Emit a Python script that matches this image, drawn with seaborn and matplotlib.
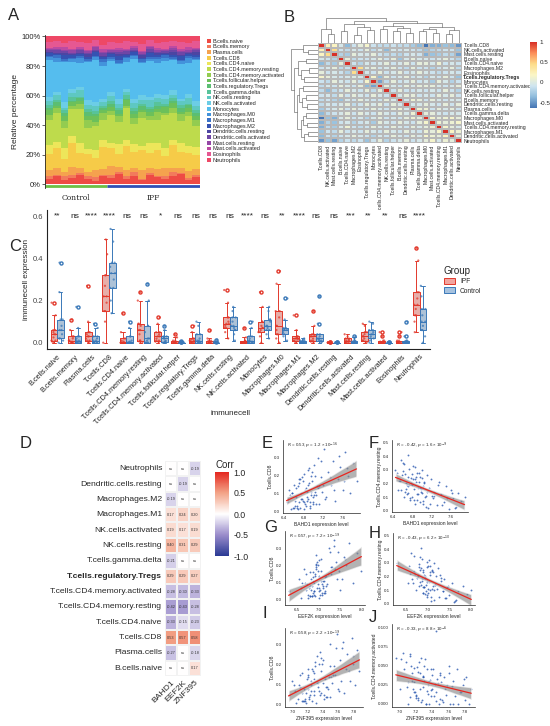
import numpy as np
import pandas as pd
import matplotlib
matplotlib.use("Agg")
import matplotlib.pyplot as plt
import seaborn as sns
from matplotlib import font_manager as fm
from matplotlib.colors import LinearSegmentedColormap
from matplotlib.patches import Patch
from matplotlib.collections import PolyCollection

sns.set_style("white")
plt.rcParams['font.family'] = ['Liberation Sans', 'DejaVu Sans']
_names = {f.name for f in fm.fontManager.ttflist}
NARROW = 'Liberation Sans Narrow' if 'Liberation Sans Narrow' in _names else None

# ---------------- shared categories ----------------
cell_types = ["B.cells.naive", "B.cells.memory", "Plasma.cells", "T.cells.CD8", "T.cells.CD4.naive",
              "T.cells.CD4.memory.resting", "T.cells.CD4.memory.activated", "T.cells.follicular.helper",
              "T.cells.regulatory.Tregs", "T.cells.gamma.delta", "NK.cells.resting", "NK.cells.activated",
              "Monocytes", "Macrophages.M0", "Macrophages.M1", "Macrophages.M2", "Dendritic.cells.resting",
              "Dendritic.cells.activated", "Mast.cells.resting", "Mast.cells.activated", "Eosinophils",
              "Neutrophils"]
cell_colors = ["#EE4A44", "#F27A5C", "#F5A24E", "#F6CB48", "#EDE65A", "#BEDB4C", "#93CC50", "#6CC05A",
               "#5BBE72", "#58C39A", "#5EC8C2", "#6CCDE6", "#55BDEE", "#4393DB", "#3A72C8", "#3552B2",
               "#4C45A2", "#6E46A6", "#9446A6", "#BC4AA2", "#E65892", "#EE4866"]

# ---------------- panel A data (percent per sample) ----------------
a_group = ["Control"] * 8 + ["IPF"] * 12
a_b_naive = [4, 6, 3, 5, 7, 4, 3, 6, 5, 8, 4, 6, 3, 7, 5, 4, 6, 8, 3, 5]
a_b_memory = [2, 1, 3, 2, 1, 2, 3, 1, 2, 1, 2, 3, 1, 2, 1, 2, 3, 1, 2, 2]
a_plasma = [4, 5, 3, 6, 4, 3, 5, 4, 6, 4, 5, 3, 7, 4, 5, 6, 3, 4, 5, 4]
a_cd8 = [12, 15, 10, 18, 11, 14, 9, 16, 13, 10, 17, 12, 15, 11, 14, 9, 16, 12, 13, 10]
a_cd4_naive = [6, 4, 8, 5, 7, 3, 6, 5, 4, 7, 5, 6, 3, 8, 5, 6, 4, 7, 5, 6]
a_cd4_mem_rest = [18, 22, 15, 20, 25, 16, 19, 14, 20, 17, 23, 15, 21, 18, 16, 24, 19, 17, 22, 15]
a_cd4_mem_act = [4, 3, 5, 2, 4, 6, 3, 5, 3, 4, 2, 5, 4, 3, 6, 2, 4, 5, 3, 4]
a_tfh = [3, 2, 4, 3, 2, 3, 4, 2, 3, 2, 4, 3, 2, 3, 2, 4, 3, 2, 3, 3]
a_tregs = [2, 3, 2, 1, 2, 3, 2, 2, 2, 3, 1, 2, 3, 2, 2, 1, 2, 3, 2, 2]
a_gamma_delta = [2, 1, 2, 3, 1, 2, 2, 1, 2, 1, 3, 2, 1, 2, 3, 1, 2, 2, 1, 2]
a_nk_rest = [3, 4, 2, 3, 5, 3, 4, 3, 4, 3, 2, 4, 3, 5, 3, 4, 2, 3, 4, 3]
a_nk_act = [3, 2, 4, 3, 2, 4, 3, 2, 3, 4, 2, 3, 4, 2, 3, 3, 4, 2, 3, 4]
a_monocytes = [26, 22, 30, 20, 18, 28, 32, 24, 22, 26, 20, 30, 24, 28, 22, 25, 21, 27, 23, 29]
a_m0 = [2, 3, 1, 2, 3, 1, 2, 3, 2, 1, 3, 2, 1, 2, 3, 2, 1, 2, 3, 1]
a_m1 = [1, 2, 1, 1, 2, 1, 1, 2, 1, 2, 1, 1, 2, 1, 1, 2, 1, 1, 2, 1]
a_m2 = [2, 1, 3, 2, 1, 2, 3, 1, 2, 3, 1, 2, 1, 3, 2, 1, 2, 3, 1, 2]
a_dc_rest = [1, 1, 2, 1, 1, 2, 1, 1, 1, 2, 1, 1, 2, 1, 1, 1, 2, 1, 1, 2]
a_dc_act = [1, 2, 1, 1, 2, 1, 1, 2, 1, 1, 2, 1, 1, 2, 1, 1, 1, 2, 1, 1]
a_mast_rest = [1, 1, 1, 2, 1, 1, 2, 1, 1, 2, 1, 1, 1, 2, 1, 1, 2, 1, 1, 1]
a_mast_act = [1, 1, 2, 1, 1, 1, 1, 2, 1, 1, 1, 2, 1, 1, 2, 1, 1, 1, 2, 1]
a_eos = [4, 5, 3, 6, 4, 5, 4, 3, 5, 4, 6, 3, 5, 4, 3, 5, 4, 6, 3, 5]
a_neut = [4, 3, 5, 3, 4, 5, 3, 6, 4, 5, 3, 4, 6, 3, 5, 4, 3, 4, 5, 3]
a_series = [a_b_naive, a_b_memory, a_plasma, a_cd8, a_cd4_naive, a_cd4_mem_rest, a_cd4_mem_act, a_tfh,
            a_tregs, a_gamma_delta, a_nk_rest, a_nk_act, a_monocytes, a_m0, a_m1, a_m2, a_dc_rest,
            a_dc_act, a_mast_rest, a_mast_act, a_eos, a_neut]

# ---------------- panel B data (clustered correlation) ----------------
b_order = ["T.cells.CD8", "NK.cells.activated", "Mast.cells.resting", "B.cells.naive", "T.cells.CD4.naive",
           "Macrophages.M2", "Eosinophils", "T.cells.regulatory.Tregs", "Monocytes",
           "T.cells.CD4.memory.activated", "NK.cells.resting", "T.cells.follicular.helper", "B.cells.memory",
           "Dendritic.cells.resting", "Plasma.cells", "T.cells.gamma.delta", "Macrophages.M0",
           "Mast.cells.activated", "T.cells.CD4.memory.resting", "Macrophages.M1",
           "Dendritic.cells.activated", "Neutrophils"]
b_lower = [
    [0.25],
    [0.2, 0.45],
    [-0.05, -0.1, -0.2],
    [-0.35, -0.15, -0.25, 0.05],
    [-0.1, -0.05, 0.05, -0.15, -0.1],
    [0.05, -0.1, -0.05, -0.1, -0.2, 0.45],
    [0.15, 0.05, -0.05, -0.1, -0.05, 0.0, -0.05],
    [-0.1, -0.15, 0.05, -0.05, -0.1, 0.05, -0.1, 0.15],
    [-0.15, -0.05, -0.1, 0.05, -0.05, -0.1, 0.05, -0.35, -0.45],
    [-0.15, -0.35, -0.15, -0.1, 0.05, -0.05, -0.1, 0.05, -0.15, 0.05],
    [-0.1, -0.05, -0.15, 0.05, -0.1, 0.05, -0.05, -0.1, 0.05, -0.05, -0.1],
    [-0.15, -0.1, -0.2, -0.3, -0.05, -0.1, 0.05, -0.05, -0.1, -0.1, 0.05, -0.05],
    [-0.15, -0.05, -0.1, -0.05, 0.05, -0.15, -0.1, 0.05, -0.05, 0.05, -0.1, 0.05, -0.05],
    [-0.25, -0.1, -0.05, 0.05, -0.1, 0.05, -0.05, -0.1, 0.05, -0.05, -0.1, 0.05, 0.1, -0.05],
    [-0.35, -0.15, -0.1, -0.05, 0.05, -0.1, 0.05, -0.05, -0.1, 0.05, -0.05, -0.1, 0.05, -0.05, 0.1],
    [-0.65, -0.3, -0.4, -0.05, 0.05, -0.1, -0.05, -0.2, -0.05, 0.05, -0.1, -0.05, -0.1, 0.05, 0.1, 0.05],
    [-0.4, -0.2, -0.3, -0.1, -0.05, -0.2, -0.1, -0.05, -0.25, 0.05, -0.05, -0.1, 0.05, -0.05, -0.1, 0.05, 0.15],
    [-0.4, -0.15, -0.25, -0.05, 0.1, -0.1, -0.15, -0.1, 0.05, -0.05, -0.1, 0.05, -0.05, -0.1, 0.05, -0.05, 0.05,
     0.1],
    [-0.3, -0.1, -0.15, 0.05, -0.1, -0.05, -0.1, 0.05, -0.05, -0.1, 0.05, -0.05, -0.1, 0.05, -0.05, -0.1, 0.1,
     0.05, 0.15],
    [-0.35, -0.1, -0.2, -0.1, -0.05, 0.05, -0.05, -0.1, -0.2, -0.05, -0.1, 0.05, -0.05, -0.1, 0.05, -0.05, 0.15,
     0.1, 0.05, 0.2],
    [-0.5, -0.3, -0.45, -0.2, -0.1, -0.15, -0.1, -0.3, -0.1, 0.05, -0.2, -0.1, -0.05, 0.05, -0.1, -0.05, 0.05,
     0.15, -0.05, 0.1, 0.05],
]
# dendrogram merges: (child a, child b, height); leaves 0..21 in display order, new clusters 22+
b_merges = [(1, 2, 0.40), (0, 22, 0.60), (3, 4, 0.50), (5, 6, 0.35), (7, 8, 0.55), (25, 26, 0.70),
            (24, 27, 0.80), (9, 10, 0.60), (11, 12, 0.50), (13, 14, 0.45), (30, 31, 0.65), (29, 32, 0.75),
            (15, 16, 0.50), (17, 18, 0.45), (34, 35, 0.60), (19, 20, 0.40), (37, 21, 0.55), (36, 38, 0.70),
            (33, 39, 0.85), (28, 40, 0.95), (23, 41, 1.10)]
b_colors = ["#4575B4", "#8DBADB", "#CFE5F0", "#FBF6C6", "#FDDC8A", "#FC8D59", "#D73027"]

# ---------------- panel C data ----------------
c_ipf = [
    [0.0, 0.005, 0.01, 0.01, 0.025, 0.04, 0.04, 0.05, 0.06, 0.06, 0.13, 0.19],
    [0.0, 0.0, 0.0, 0.0, 0.005, 0.01, 0.01, 0.02, 0.03, 0.03, 0.06, 0.11],
    [0.0, 0.005, 0.01, 0.01, 0.02, 0.03, 0.03, 0.04, 0.05, 0.05, 0.10, 0.27],
    [0.0, 0.1, 0.15, 0.15, 0.19, 0.22, 0.22, 0.27, 0.32, 0.32, 0.42, 0.49],
    [0.0, 0.0, 0.0, 0.0, 0.0, 0.0, 0.005, 0.01, 0.02, 0.02, 0.05, 0.14],
    [0.0, 0.005, 0.01, 0.01, 0.04, 0.06, 0.06, 0.08, 0.09, 0.09, 0.20, 0.24],
    [0.0, 0.005, 0.01, 0.01, 0.02, 0.03, 0.03, 0.04, 0.05, 0.05, 0.09, 0.12],
    [0.0, 0.0, 0.0, 0.0, 0.0, 0.0, 0.0, 0.005, 0.01, 0.01, 0.025, 0.04],
    [0.0, 0.0, 0.0, 0.0, 0.005, 0.01, 0.01, 0.015, 0.02, 0.02, 0.05, 0.08],
    [0.0, 0.0, 0.0, 0.0, 0.0, 0.0, 0.0, 0.005, 0.01, 0.01, 0.02, 0.06],
    [0.02, 0.05, 0.07, 0.07, 0.08, 0.09, 0.09, 0.10, 0.12, 0.12, 0.19, 0.25],
    [0.0, 0.0, 0.0, 0.0, 0.0, 0.0, 0.005, 0.005, 0.01, 0.01, 0.025, 0.07],
    [0.0, 0.03, 0.05, 0.05, 0.06, 0.07, 0.07, 0.08, 0.10, 0.10, 0.17, 0.24],
    [0.0, 0.02, 0.04, 0.04, 0.06, 0.08, 0.08, 0.12, 0.15, 0.15, 0.28, 0.34],
    [0.0, 0.005, 0.01, 0.01, 0.015, 0.02, 0.02, 0.025, 0.03, 0.03, 0.06, 0.13],
    [0.0, 0.005, 0.01, 0.01, 0.02, 0.03, 0.03, 0.035, 0.04, 0.04, 0.08, 0.15],
    [0.0, 0.0, 0.0, 0.0, 0.0, 0.0, 0.0, 0.0, 0.0, 0.0, 0.001, 0.002],
    [0.0, 0.0, 0.0, 0.0, 0.005, 0.01, 0.01, 0.015, 0.02, 0.02, 0.03, 0.04],
    [0.0, 0.005, 0.01, 0.01, 0.02, 0.03, 0.03, 0.04, 0.05, 0.05, 0.08, 0.09],
    [0.0, 0.0, 0.0, 0.0, 0.0, 0.0, 0.0, 0.005, 0.01, 0.01, 0.03, 0.05],
    [0.0, 0.0, 0.0, 0.0, 0.0, 0.0, 0.0, 0.005, 0.01, 0.01, 0.03, 0.05],
    [0.05, 0.10, 0.13, 0.13, 0.16, 0.18, 0.18, 0.21, 0.24, 0.24, 0.39, 0.45],
]
c_control = [
    [0.0, 0.01, 0.02, 0.02, 0.04, 0.06, 0.06, 0.08, 0.11, 0.11, 0.24, 0.38],
    [0.0, 0.0, 0.0, 0.0, 0.005, 0.01, 0.01, 0.02, 0.03, 0.03, 0.07, 0.17],
    [0.0, 0.0, 0.0, 0.0, 0.005, 0.01, 0.01, 0.02, 0.03, 0.03, 0.07, 0.09],
    [0.14, 0.20, 0.26, 0.26, 0.30, 0.33, 0.33, 0.36, 0.38, 0.38, 0.48, 0.54],
    [0.0, 0.0, 0.0, 0.0, 0.0, 0.0, 0.005, 0.01, 0.03, 0.03, 0.07, 0.10],
    [0.0, 0.0, 0.0, 0.0, 0.01, 0.02, 0.02, 0.05, 0.08, 0.08, 0.20, 0.28],
    [0.0, 0.0, 0.005, 0.005, 0.01, 0.02, 0.02, 0.025, 0.03, 0.03, 0.06, 0.08],
    [0.0, 0.0, 0.0, 0.0, 0.0, 0.0, 0.0, 0.0, 0.0, 0.002, 0.004, 0.006],
    [0.0, 0.0, 0.0, 0.0, 0.005, 0.01, 0.01, 0.02, 0.04, 0.04, 0.08, 0.10],
    [0.0, 0.0, 0.0, 0.0, 0.0, 0.0, 0.0, 0.0, 0.0, 0.0, 0.005, 0.015],
    [0.01, 0.04, 0.06, 0.06, 0.07, 0.08, 0.08, 0.10, 0.12, 0.12, 0.17, 0.15],
    [0.0, 0.0, 0.0, 0.0, 0.005, 0.01, 0.01, 0.02, 0.03, 0.03, 0.07, 0.10],
    [0.02, 0.04, 0.06, 0.06, 0.07, 0.08, 0.08, 0.10, 0.11, 0.11, 0.17, 0.15],
    [0.01, 0.03, 0.04, 0.04, 0.05, 0.06, 0.06, 0.065, 0.07, 0.07, 0.11, 0.21],
    [0.0, 0.0, 0.0, 0.0, 0.0, 0.005, 0.005, 0.008, 0.01, 0.01, 0.02, 0.015],
    [0.0, 0.005, 0.01, 0.01, 0.015, 0.02, 0.02, 0.03, 0.04, 0.04, 0.09, 0.22],
    [0.0, 0.0, 0.0, 0.0, 0.0, 0.0, 0.0, 0.0, 0.0, 0.0, 0.001, 0.002],
    [0.0, 0.0, 0.0, 0.0, 0.0, 0.005, 0.005, 0.008, 0.01, 0.01, 0.025, 0.03],
    [0.0, 0.01, 0.02, 0.02, 0.03, 0.04, 0.04, 0.05, 0.06, 0.06, 0.10, 0.09],
    [0.0, 0.0, 0.0, 0.0, 0.0, 0.0, 0.0, 0.0, 0.0, 0.0, 0.001, 0.003],
    [0.0, 0.0, 0.0, 0.0, 0.0, 0.005, 0.005, 0.008, 0.01, 0.01, 0.03, 0.10],
    [0.0, 0.03, 0.06, 0.06, 0.08, 0.10, 0.10, 0.13, 0.16, 0.16, 0.27, 0.22],
]
c_sig = ["**", "ns", "****", "****", "ns", "ns", "*", "ns", "ns", "ns", "ns", "****", "ns", "**", "****",
         "ns", "ns", "***", "**", "**", "ns", "****"]
c_groups = ["IPF", "Control"]
c_palette = {"IPF": "#E2382B", "Control": "#3A78B8"}

# ---------------- panel D data ----------------
d_rows = ["Neutrophils", "Dendritic.cells.resting", "Macrophages.M2", "Macrophages.M1", "NK.cells.activated",
          "NK.cells.resting", "T.cells.gamma.delta", "T.cells.regulatory.Tregs", "T.cells.CD4.memory.activated",
          "T.cells.CD4.memory.resting", "T.cells.CD4.naive", "T.cells.CD8", "Plasma.cells", "B.cells.naive"]
d_genes = ["BAHD1", "EEF2K", "ZNF395"]
d_bahd1 = [None, None, -0.19, 0.17, 0.19, 0.40, -0.21, 0.29, -0.28, -0.42, -0.33, 0.53, -0.27, None]
d_eef2k = [None, -0.19, None, 0.24, 0.17, 0.31, None, 0.29, -0.30, -0.43, -0.15, 0.57, None, None]
d_znf395 = [-0.19, None, None, 0.20, 0.19, 0.29, None, 0.27, -0.33, -0.28, -0.23, 0.58, -0.18, 0.17]

# ---------------- panels E-J data (samples) ----------------
bahd1 = [6.45, 6.50, 6.55, 6.60, 6.62, 6.65, 6.70, 6.72, 6.75, 6.78, 6.80, 6.82, 6.85, 6.88, 6.90, 6.92, 6.95,
         6.98, 7.00, 7.02, 7.05, 7.08, 7.10, 7.12, 7.15, 7.18, 7.22, 7.25, 7.30, 7.35, 7.40, 7.45, 7.50, 7.55,
         7.60, 7.65, 7.70, 7.75, 7.80, 7.88, 6.58, 6.68, 6.74, 6.77, 6.84, 6.86, 6.91, 6.94, 6.97, 7.01, 6.63,
         6.69, 6.79, 6.87, 6.99, 7.04, 7.09, 6.56, 6.66, 7.20,
         6.52, 6.60, 6.64, 6.70, 6.73, 6.76, 6.80, 6.83, 6.86, 6.89, 6.93, 6.96, 7.00, 7.03, 7.06, 6.48, 6.57,
         6.67, 6.71, 6.81, 6.89, 6.95, 7.11, 7.16, 7.24, 7.33, 7.42, 7.52, 7.62, 7.68]
eef2k = [6.30, 6.55, 6.60, 6.70, 6.75, 6.80, 6.65, 6.85, 6.90, 6.70, 6.95, 6.88, 7.00, 6.78, 7.05, 6.92, 7.10,
         6.98, 7.15, 6.95, 7.20, 7.02, 7.25, 7.08, 7.30, 7.12, 7.35, 7.18, 7.40, 7.28, 7.45, 7.50, 7.38, 7.60,
         7.55, 7.70, 7.65, 7.80, 7.90, 8.00, 6.85, 6.92, 7.00, 6.95, 6.90, 7.05, 6.88, 7.02, 6.96, 7.08, 6.82,
         6.76, 7.06, 6.84, 7.12, 6.93, 7.16, 6.62, 7.03, 7.22,
         6.72, 6.80, 6.86, 6.90, 6.94, 6.97, 7.00, 6.83, 7.04, 6.91, 7.07, 6.99, 7.10, 6.87, 7.14, 6.58, 6.68,
         6.79, 6.81, 6.89, 7.01, 6.98, 7.18, 7.26, 7.10, 7.32, 7.42, 7.35, 7.48, 7.62]
znf395 = [6.95, 7.00, 7.05, 7.10, 7.08, 7.15, 7.20, 7.12, 7.25, 7.18, 7.30, 7.22, 7.28, 7.35, 7.32, 7.26, 7.40,
          7.38, 7.42, 7.36, 7.45, 7.48, 7.50, 7.44, 7.55, 7.52, 7.58, 7.60, 7.62, 7.56, 7.65, 7.68, 7.70, 7.72,
          7.75, 7.78, 7.80, 7.82, 7.85, 7.88, 7.15, 7.20, 7.24, 7.30, 7.22, 7.34, 7.28, 7.36, 7.40, 7.33, 7.12,
          7.18, 7.27, 7.21, 7.46, 7.39, 7.43, 7.02, 7.16, 7.53,
          7.10, 7.14, 7.19, 7.23, 7.26, 7.29, 7.31, 7.25, 7.37, 7.20, 7.41, 7.35, 7.47, 7.32, 7.50, 7.04, 7.09,
          7.17, 7.13, 7.28, 7.38, 7.44, 7.51, 7.57, 7.61, 7.49, 7.64, 7.66, 7.74, 7.79]
cd8 = [0.05, 0.12, 0.01, 0.15, 0.03, 0.08, 0.18, 0.02, 0.10, 0.06, 0.21, 0.04, 0.13, 0.07, 0.24, 0.02, 0.11, 0.17,
       0.05, 0.26, 0.09, 0.14, 0.30, 0.04, 0.19, 0.11, 0.35, 0.08, 0.22, 0.15, 0.28, 0.06, 0.18, 0.25, 0.12, 0.33,
       0.20, 0.10, 0.27, 0.17,
       0.02, 0.14, 0.07, 0.19, 0.03, 0.11, 0.16, 0.05, 0.22, 0.09, 0.06, 0.01, 0.17, 0.08, 0.04, 0.20, 0.13, 0.10,
       0.03, 0.15,
       0.09, 0.02, 0.13, 0.05, 0.18, 0.07, 0.01, 0.12, 0.06, 0.15, 0.03, 0.20, 0.08, 0.11, 0.04, 0.07, 0.10, 0.02,
       0.16, 0.05, 0.23, 0.09, 0.14, 0.28, 0.07, 0.19, 0.12, 0.31, 0.17, 0.24]
cd4_rest = [0.30, 0.15, 0.22, 0.35, 0.10, 0.27, 0.18, 0.41, 0.08, 0.24, 0.19, 0.33, 0.05, 0.21, 0.28, 0.12, 0.25,
            0.16, 0.30, 0.07, 0.20, 0.11, 0.26, 0.02, 0.17, 0.23, 0.09, 0.14, 0.04, 0.21, 0.12, 0.06, 0.18, 0.01,
            0.15, 0.09, 0.03, 0.13, 0.07, 0.10,
            0.26, 0.12, 0.31, 0.20, 0.08, 0.23, 0.17, 0.28, 0.14, 0.05, 0.34, 0.19, 0.10, 0.25, 0.13, 0.21, 0.03,
            0.37, 0.16, 0.11,
            0.22, 0.29, 0.14, 0.25, 0.19, 0.09, 0.27, 0.16, 0.32, 0.12, 0.21, 0.06, 0.24, 0.18, 0.10, 0.28, 0.15,
            0.20, 0.13, 0.23, 0.08, 0.17, 0.14, 0.05, 0.11, 0.19, 0.04, 0.09, 0.13, 0.02]
cd4_act = [0.060, 0.020, 0.045, 0.000, 0.055, 0.030, 0.010, 0.065, 0.040, 0.015, 0.050, 0.005, 0.035, 0.025,
           0.000, 0.060, 0.020, 0.045, 0.010, 0.030, 0.095, 0.000, 0.040, 0.015, 0.035, 0.005, 0.025, 0.050,
           0.000, 0.020, 0.030, 0.010, 0.045, 0.000, 0.015, 0.025, 0.005, 0.035, 0.000, 0.020,
           0.040, 0.012, 0.055, 0.030, 0.008, 0.045, 0.022, 0.000, 0.038, 0.017, 0.062, 0.028, 0.005, 0.048,
           0.033, 0.010, 0.026, 0.058, 0.020, 0.003,
           0.028, 0.050, 0.015, 0.042, 0.002, 0.035, 0.058, 0.020, 0.031, 0.008, 0.045, 0.013, 0.027, 0.000,
           0.038, 0.066, 0.022, 0.047, 0.009, 0.036, 0.018, 0.004, 0.029, 0.011, 0.040, 0.006, 0.023, 0.000,
           0.015, 0.032]

W, H = 550.0, 726.0
fig = plt.figure(figsize=(5.5, 7.26), dpi=100)


def rect(x0, y0, x1, y1):
    return [x0 / W, 1 - y1 / H, (x1 - x0) / W, (y1 - y0) / H]


def plabel(x, y, s):
    fig.text(x / W, 1 - y / H, s, fontsize=12, va='center', ha='left')


# ================= Panel A =================
axA = fig.add_axes(rect(45, 35, 200, 188))
mat = np.array(a_series, dtype=float)
mat = mat / mat.sum(axis=0) * 100
xs = np.arange(mat.shape[1])
bottom = np.zeros(mat.shape[1])
for name, col, vals in zip(cell_types, cell_colors, mat):
    axA.bar(xs, vals, bottom=bottom, width=1.0, color=col, label=name, linewidth=0)
    bottom += vals
n_ctrl = a_group.count("Control")
n_all = len(a_group)
axA.hlines(-1.3, -0.5, n_ctrl - 0.5, color="#6DBE45", lw=2)
axA.hlines(-1.3, n_ctrl - 0.5, n_all - 0.5, color="#2F4FB5", lw=2)
axA.set_xlim(-0.5, n_all - 0.5)
axA.set_ylim(-2.4, 101)
axA.set_yticks([0, 20, 40, 60, 80, 100])
axA.set_yticklabels(["0%", "20%", "40%", "60%", "80%", "100%"], fontsize=5.5)
axA.set_xticks([])
for s in ["top", "right", "bottom"]:
    axA.spines[s].set_visible(False)
axA.spines["left"].set_linewidth(0.6)
axA.tick_params(axis='y', length=2, width=0.5, pad=1, left=True)
axA.set_ylabel("Relative percentage", fontsize=6, labelpad=2)
tr = matplotlib.transforms.blended_transform_factory(axA.transData, axA.transAxes)
axA.text((n_ctrl - 1) / 2, -0.04, "Control", transform=tr, ha='center', va='top', fontsize=5.5, family='serif')
axA.text((n_ctrl + n_all - 1) / 2, -0.04, "IPF", transform=tr, ha='center', va='top', fontsize=5.5, family='serif')
axA.legend(loc='upper left', bbox_to_anchor=(1.03, 0.99), frameon=False, fontsize=4.0, handlelength=0.7,
           handleheight=0.7, labelspacing=0.12, handletextpad=0.4, borderaxespad=0)
plabel(8, 15, "A")

# ================= Panel B =================
nb = len(b_order)
M = np.eye(nb)
for i, row in enumerate(b_lower, start=1):
    for j, v in enumerate(row):
        M[i, j] = v
        M[j, i] = v
b_cmap = LinearSegmentedColormap.from_list("b_cmap", b_colors)
axB = fig.add_axes(rect(318, 43, 462, 143))
caxB = fig.add_axes(rect(530, 42, 537, 108))
sns.heatmap(pd.DataFrame(M, index=b_order, columns=b_order), ax=axB, cmap=b_cmap, vmin=-0.63, vmax=1,
            cbar_ax=caxB, linewidths=0.25, linecolor="#b8b8b8", xticklabels=True, yticklabels=True)
axB.yaxis.tick_right()
axB.tick_params(axis='both', length=0, pad=1)
axB.set_yticklabels(b_order, rotation=0, fontsize=3.7)
axB.set_xticklabels(b_order, rotation=90, fontsize=3.7)
for t in axB.get_yticklabels():
    if t.get_text() == "T.cells.regulatory.Tregs":
        t.set_fontweight('bold')
axB.set_xlabel("")
axB.set_ylabel("")
caxB.set_yticks([-0.5, 0, 0.5, 1])
caxB.set_yticklabels(["-0.5", "0", "0.5", "1"], fontsize=4.5)
caxB.tick_params(length=0, pad=2)
for s in caxB.spines.values():
    s.set_visible(False)


def draw_dendro(ax, merges, n, top=True):
    pos = {i: i + 0.5 for i in range(n)}
    hgt = {i: 0.0 for i in range(n)}
    for k, (a, b, h) in enumerate(merges):
        xa, xb, ha, hb = pos[a], pos[b], hgt[a], hgt[b]
        if top:
            ax.plot([xa, xa, xb, xb], [ha, h, h, hb], color="#555555", lw=0.4)
        else:
            ax.plot([ha, h, h, hb], [xa, xa, xb, xb], color="#555555", lw=0.4)
        pos[n + k] = (xa + xb) / 2
        hgt[n + k] = h
    hmax = max(m[2] for m in merges)
    if top:
        ax.set_xlim(0, n)
        ax.set_ylim(0, hmax * 1.02)
    else:
        ax.set_ylim(n, 0)
        ax.set_xlim(hmax * 1.02, 0)
    ax.axis('off')


axBt = fig.add_axes(rect(318, 17, 462, 43))
draw_dendro(axBt, b_merges, nb, top=True)
axBl = fig.add_axes(rect(290, 43, 318, 143))
draw_dendro(axBl, b_merges, nb, top=False)
plabel(284, 18, "B")

# ================= Panel C =================
rowsC = []
for ci, name in enumerate(cell_types):
    for v in c_ipf[ci]:
        rowsC.append((name, "IPF", v))
    for v in c_control[ci]:
        rowsC.append((name, "Control", v))
dfC = pd.DataFrame(rowsC, columns=["cell", "Group", "value"])
axC = fig.add_axes(rect(47, 210, 430, 349))
sns.boxplot(data=dfC, x="cell", y="value", hue="Group", hue_order=c_groups, palette=c_palette, order=cell_types,
            width=0.78, fill=True, linewidth=0, showfliers=False, boxprops=dict(alpha=0.45), legend=False, ax=axC)
sns.boxplot(data=dfC, x="cell", y="value", hue="Group", hue_order=c_groups, palette=c_palette, order=cell_types,
            width=0.78, fill=False, linewidth=0.7, showfliers=True,
            flierprops=dict(marker='o', markersize=2.2), legend=False, ax=axC)
sns.stripplot(data=dfC, x="cell", y="value", hue="Group", hue_order=c_groups, palette=c_palette, order=cell_types,
              dodge=True, jitter=0.3, size=1.6, alpha=0.75, legend=False, ax=axC, zorder=3)
for i, s in enumerate(c_sig):
    axC.text(i, 0.6, s, ha='center', va='center', fontsize=6, color="#222222")
axC.set_ylim(-0.03, 0.63)
axC.set_xlim(-0.6, len(cell_types) - 0.4)
axC.set_yticks([0.0, 0.2, 0.4, 0.6])
axC.set_yticklabels(["0.0", "0.2", "0.4", "0.6"], fontsize=5.5, color="#444444")
axC.set_xticks(range(len(cell_types)))
axC.set_xticklabels(cell_types, rotation=45, ha='right', rotation_mode='anchor', fontsize=5.3)
axC.tick_params(axis='both', length=2, width=0.5, pad=1)
for s in ["top", "right"]:
    axC.spines[s].set_visible(False)
for s in ["left", "bottom"]:
    axC.spines[s].set_linewidth(0.8)
    axC.spines[s].set_color("#222222")
axC.set_ylabel("immunecell expression", fontsize=5.8, labelpad=2)
axC.set_xlabel("immunecell", fontsize=5.8)
axC.xaxis.set_label_coords(0.48, -0.44)
handles = [Patch(facecolor=matplotlib.colors.to_rgba(c_palette[g], 0.45), edgecolor=c_palette[g], lw=0.7, label=g)
           for g in c_groups]
fig.legend(handles=handles, title="Group", loc='upper left', bbox_to_anchor=(438 / W, 1 - 260 / H), frameon=False,
           fontsize=4.8, title_fontsize=7, handlelength=1.6, handleheight=1.0, labelspacing=0.3,
           alignment='left')
plabel(9, 247, "C")

# ================= Panel D =================
d_vals = np.array([[0.0 if v is None else v for v in col] for col in (d_bahd1, d_eef2k, d_znf395)]).T
d_annot = np.array([["ns" if v is None else "%.2f" % v for v in col] for col in (d_bahd1, d_eef2k, d_znf395)]).T
corr_cmap = LinearSegmentedColormap.from_list(
    "corr", [(0.0, "#2A3A94"), (0.25, "#9A8CCB"), (0.5, "#FFFFFF"), (0.75, "#F3A488"), (1.0, "#E4271F")])
axD = fig.add_axes(rect(165, 461, 201, 676))
caxD = fig.add_axes(rect(215, 472, 229, 556))
sns.heatmap(pd.DataFrame(d_vals, index=d_rows, columns=d_genes), ax=axD, cmap=corr_cmap, vmin=-1, vmax=1,
            annot=d_annot, fmt="", annot_kws=dict(fontsize=2.8, color="#333333"), cbar_ax=caxD,
            linewidths=0.3, linecolor="#f2f2f2", xticklabels=True, yticklabels=True)
lab_kw = dict(family=NARROW, fontsize=7.3) if NARROW else dict(fontsize=6.1)
axD.set_yticklabels(d_rows, rotation=0, **lab_kw)
axD.set_xticklabels(d_genes, rotation=45, ha='right', rotation_mode='anchor', **lab_kw)
for t in axD.get_yticklabels():
    if t.get_text() == "T.cells.regulatory.Tregs":
        t.set_fontweight('bold')
axD.tick_params(axis='both', length=0, pad=2)
axD.set_xlabel("")
axD.set_ylabel("")
caxD.set_yticks([-1, -0.5, 0, 0.5, 1])
caxD.set_yticklabels(["-1.0", "-0.5", "0.0", "0.5", "1.0"], fontsize=6.3)
caxD.tick_params(length=0, pad=3)
for s in caxD.spines.values():
    s.set_visible(False)
caxD.set_title("Corr", fontsize=7, loc='left', pad=3)
plabel(20, 443, "D")


# ================= Panels E-J =================
def scatter_panel(r, x, y, xlabel, ylabel, text, xticks, yticks, xtl=None, ytl=None):
    ax = fig.add_axes(r)
    sns.regplot(x=np.array(x), y=np.array(y), ax=ax, ci=95, seed=1, n_boot=500,
                scatter_kws=dict(s=1.8, color="#2A58B0", linewidths=0),
                line_kws=dict(color="#E8251F", lw=0.9))
    for c in ax.collections:
        if isinstance(c, PolyCollection):
            c.set_facecolor("#8a8a8a")
            c.set_alpha(0.65)
    ax.set_xticks(xticks)
    ax.set_yticks(yticks)
    if xtl:
        ax.set_xticklabels(xtl)
    if ytl:
        ax.set_yticklabels(ytl)
    ax.tick_params(axis='both', labelsize=3.2, length=1.5, width=0.4, pad=1)
    for s in ["top", "right"]:
        ax.spines[s].set_visible(False)
    for s in ["left", "bottom"]:
        ax.spines[s].set_linewidth(0.5)
        ax.spines[s].set_color("#222222")
    ax.set_xlabel(xlabel, fontsize=3.6, labelpad=1)
    ax.set_ylabel(ylabel, fontsize=3.6, labelpad=0.5)
    ax.text(0.05, 0.99, text, transform=ax.transAxes, fontsize=3.2, va='top', ha='left')
    return ax


axE = scatter_panel(rect(283, 440, 360, 513), bahd1, cd8, "BAHD1 expression level", "T.cells.CD8",
                    r"$R$ = 0.53, $p$ = 1.2 × 10$^{-16}$", [6.4, 6.8, 7.2, 7.6], [0.0, 0.1, 0.2, 0.3])
axE.set_ylim(-0.01, 0.4)
axF = scatter_panel(rect(392, 440, 468, 512), bahd1, cd4_rest, "BAHD1 expression level",
                    "T.cells.CD4.memory.resting", r"$R$ = - 0.42, $p$ = 1.6 × 10$^{-9}$",
                    [6.4, 6.8, 7.2, 7.6], [0.0, 0.1, 0.2, 0.3, 0.4, 0.5])
axF.set_ylim(-0.01, 0.52)
axG = scatter_panel(rect(285, 531, 365, 605), eef2k, cd8, "EEF2K expression level", "T.cells.CD8",
                    r"$R$ = 0.57, $p$ = 7.2 × 10$^{-19}$", [6.5, 7.0, 7.5, 8.0], [0.0, 0.1, 0.2, 0.3])
axG.set_ylim(-0.03, 0.4)
axH = scatter_panel(rect(393, 533, 475, 605), eef2k, cd4_rest, "EEF2K expression level",
                    "T.cells.CD4.memory.resting", r"$R$ = - 0.43, $p$ = 6.2 × 10$^{-10}$",
                    [6.5, 7.0, 7.5, 8.0], [0.0, 0.1, 0.2, 0.3, 0.4, 0.5])
axH.set_ylim(-0.01, 0.52)
axI = scatter_panel(rect(285, 628, 363, 707), znf395, cd8, "ZNF395 expression level", "T.cells.CD8",
                    r"$R$ = 0.58, $p$ = 2.2 × 10$^{-19}$", [7.0, 7.2, 7.4, 7.6, 7.8], [0.0, 0.1, 0.2, 0.3])
axI.set_ylim(-0.01, 0.38)
axJ = scatter_panel(rect(392, 624, 475, 707), znf395, cd4_act, "ZNF395 expression level",
                    "T.cells.CD4.memory.activated", r"$R$ = - 0.33, $p$ = 8.8 × 10$^{-6}$",
                    [7.0, 7.2, 7.4, 7.6, 7.8], [0.0, 0.025, 0.05, 0.075, 0.1],
                    ytl=["0.000", "0.025", "0.050", "0.075", "0.100"])
axJ.set_ylim(-0.004, 0.104)

plabel(262, 443, "E")
plabel(369, 443, "F")
plabel(264, 527, "G")
plabel(369, 533, "H")
plabel(262, 613, "I")
plabel(369, 617, "J")

fig.savefig("out.png", dpi=100)
